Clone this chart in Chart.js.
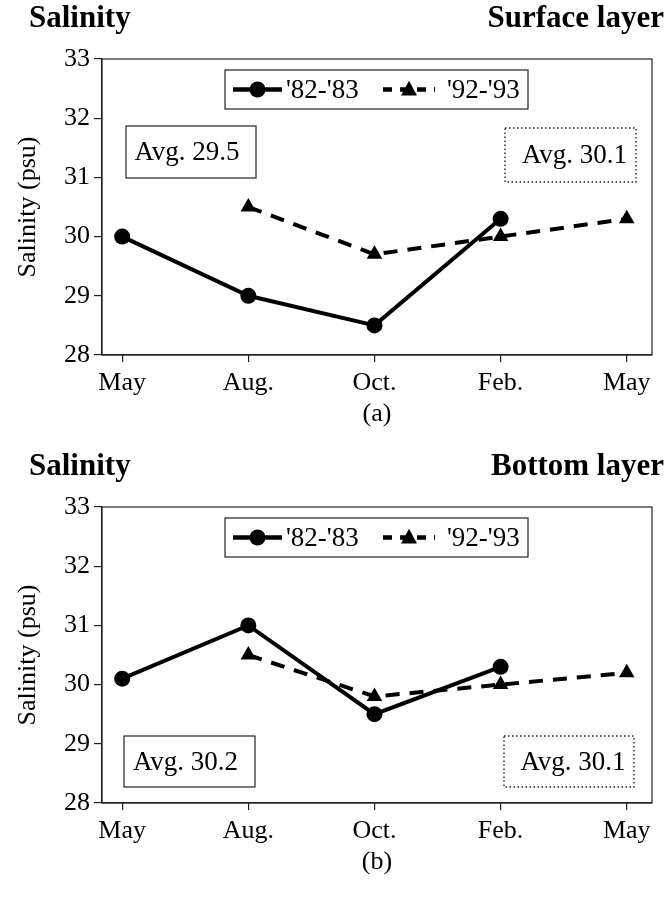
<!DOCTYPE html>
<html><head><meta charset="utf-8">
<script src="https://cdn.jsdelivr.net/npm/chart.js@4.4.1/dist/chart.umd.min.js"></script>
<style>
html,body{margin:0;padding:0;background:#fff;}
body{width:670px;height:915px;position:relative;overflow:hidden;font-family:"Liberation Serif","Times New Roman",serif;color:#000;}
canvas{position:absolute;left:0;}
.hdr{position:absolute;left:0;width:670px;height:34px;font-weight:bold;font-size:31px;line-height:31px;}
.hdr .l{position:absolute;left:29px;top:0;}
.hdr .r{position:absolute;right:6px;top:0;}
</style></head><body>
<canvas id="c1" width="670" height="448" style="top:0px"></canvas>
<canvas id="c2" width="670" height="448" style="top:448px"></canvas>
<div class="hdr" style="top:1px"><span class="l" id="t1l"></span><span class="r" id="t1r"></span></div>
<div class="hdr" style="top:449px"><span class="l" id="t2l"></span><span class="r" id="t2r"></span></div>
<script>
// ---- data ----
const months = ['May', 'Aug.', 'Oct.', 'Feb.', 'May'];
const seriesLabels = ["'82-'83", "'92-'93"];
const surface8283 = [30.0, 29.0, 28.5, 30.3, null];
const surface9293 = [null, 30.5, 29.7, 30.0, 30.3];
const bottom8283 = [30.1, 31.0, 29.5, 30.3, null];
const bottom9293 = [null, 30.5, 29.8, 30.0, 30.2];
const avgSurface = [29.5, 30.1];
const avgBottom = [30.2, 30.1];
const yMin = 28, yMax = 33, yStep = 1;
const variableTitle = 'Salinity';
const layerTitles = ['Surface layer', 'Bottom layer'];
const panelLabels = ['(a)', '(b)'];
const yAxisTitle = 'Salinity (psu)';

document.getElementById('t1l').textContent = variableTitle;
document.getElementById('t2l').textContent = variableTitle;
document.getElementById('t1r').textContent = layerTitles[0];
document.getElementById('t2r').textContent = layerTitles[1];

const FONT = '"Liberation Serif", "Times New Roman", serif';
Chart.defaults.font.family = FONT;
Chart.defaults.font.size = 26;
Chart.defaults.color = '#000';

function drawMarker(ctx, style, x, y, r) {
  ctx.beginPath();
  if (style === 'circle') {
    ctx.arc(x, y, r, 0, Math.PI * 2);
  } else {
    ctx.moveTo(x, y - r * 1.1);
    ctx.lineTo(x + r, y + r * 0.75);
    ctx.lineTo(x - r, y + r * 0.75);
    ctx.closePath();
  }
  ctx.fill();
}

const overlayPlugin = {
  id: 'overlay',
  afterDraw(chart, args, opts) {
    const ctx = chart.ctx, ca = chart.chartArea;
    ctx.save();
    ctx.strokeStyle = '#222';
    ctx.lineWidth = 1.2;
    ctx.setLineDash([]);
    ctx.strokeRect(ca.left, ca.top, ca.width, ca.height);
    // legend
    const L = opts.legend;
    const lx = ca.left + L.x, ly = ca.top + L.y;
    ctx.lineWidth = 1.2;
    ctx.strokeRect(lx, ly, L.w, L.h);
    const cy = ly + L.h / 2;
    ctx.font = '27px ' + FONT;
    ctx.textBaseline = 'middle';
    ctx.fillStyle = '#000';
    chart.data.datasets.forEach((ds, i) => {
      const s = L.items[i];
      ctx.strokeStyle = '#000';
      ctx.lineWidth = 4.5;
      ctx.setLineDash(ds.borderDash ? [9, 8] : []);
      ctx.beginPath();
      ctx.moveTo(lx + s.x0, cy);
      ctx.lineTo(lx + s.x1, cy);
      ctx.stroke();
      ctx.setLineDash([]);
      drawMarker(ctx, ds.pointStyle, lx + (s.x0 + s.x1) / 2, cy, 8);
      ctx.textAlign = 'left';
      ctx.fillText(ds.label, lx + s.tx, cy + 1);
    });
    // average boxes
    opts.boxes.forEach(b => {
      const bx = ca.left + b.x, by = ca.top + b.y;
      ctx.strokeStyle = '#222';
      if (b.dotted) { ctx.setLineDash([1.5, 2.5]); ctx.lineWidth = 1.4; }
      else { ctx.setLineDash([]); ctx.lineWidth = 1.2; }
      ctx.strokeRect(bx, by, b.w, b.h);
      ctx.setLineDash([]);
      ctx.textAlign = 'center';
      ctx.fillStyle = '#000';
      ctx.fillText(b.text, bx + b.w / 2 + (b.dx || 0), by + b.h / 2 + 1);
    });
    ctx.restore();
  }
};

function makeChart(id, d1, d2, avgs, boxLayout, panelLabel) {
  const toPts = arr => arr.map((v, i) => ({x: i, y: v}));
  return new Chart(document.getElementById(id), {
    type: 'line',
    data: {
      datasets: [
        {label: seriesLabels[0], data: toPts(d1), borderColor: '#000', backgroundColor: '#000',
         borderWidth: 4, pointStyle: 'circle', pointRadius: 8, pointBackgroundColor: '#000',
         pointBorderWidth: 0, tension: 0, spanGaps: false},
        {label: seriesLabels[1], data: toPts(d2), borderColor: '#000', backgroundColor: '#000',
         borderWidth: 4, borderDash: [14, 10], pointStyle: 'triangle', pointRadius: 9,
         pointBackgroundColor: '#000', pointBorderWidth: 0, tension: 0, spanGaps: false}
      ]
    },
    options: {
      responsive: false,
      animation: false,
      devicePixelRatio: 1,
      layout: {padding: {top: 59, right: 18, left: 0, bottom: 0}},
      plugins: {
        legend: {display: false},
        tooltip: {enabled: false},
        overlay: {
          legend: {x: 123, y: 11, w: 303, h: 39,
                   items: [{x0: 8, x1: 57, tx: 61}, {x0: 158, x1: 210, tx: 222}]},
          boxes: [
            Object.assign({text: 'Avg. ' + avgs[0].toFixed(1), dotted: false}, boxLayout[0]),
            Object.assign({text: 'Avg. ' + avgs[1].toFixed(1), dotted: true}, boxLayout[1])
          ]
        }
      },
      scales: {
        x: {
          type: 'linear', min: -0.16, max: 4.2,
          afterBuildTicks: s => { s.ticks = months.map((_, i) => ({value: i})); },
          afterFit: s => { s.height = 93; },
          ticks: {callback: v => months[v], padding: 6, maxRotation: 0, autoSkip: false,
                  font: {size: 26}, color: '#000'},
          grid: {drawOnChartArea: false, drawTicks: true, tickLength: 7, color: '#222', lineWidth: 1.2},
          border: {display: true, color: '#222', width: 1.2},
          title: {display: true, text: panelLabel, font: {size: 26}, color: '#000',
                  padding: {top: 0, bottom: 18}}
        },
        y: {
          min: yMin, max: yMax,
          afterFit: s => { s.width = 102; },
          ticks: {stepSize: yStep, padding: 4, font: {size: 26}, color: '#000'},
          grid: {drawOnChartArea: false, drawTicks: true, tickLength: 8, color: '#222', lineWidth: 1.2},
          border: {display: true, color: '#222', width: 1.2},
          title: {display: true, text: yAxisTitle, font: {size: 26}, color: '#000',
                  padding: {top: 13, bottom: 0}}
        }
      }
    },
    plugins: [overlayPlugin]
  });
}

makeChart('c1', surface8283, surface9293, avgSurface,
  [{x: 24, y: 67, w: 130, h: 52, dx: -4}, {x: 403, y: 69, w: 131, h: 54, dx: 4}], panelLabels[0]);
makeChart('c2', bottom8283, bottom9293, avgBottom,
  [{x: 22, y: 229, w: 131, h: 51, dx: -4}, {x: 402, y: 229, w: 130, h: 51, dx: 4}], panelLabels[1]);
</script>
</body></html>
